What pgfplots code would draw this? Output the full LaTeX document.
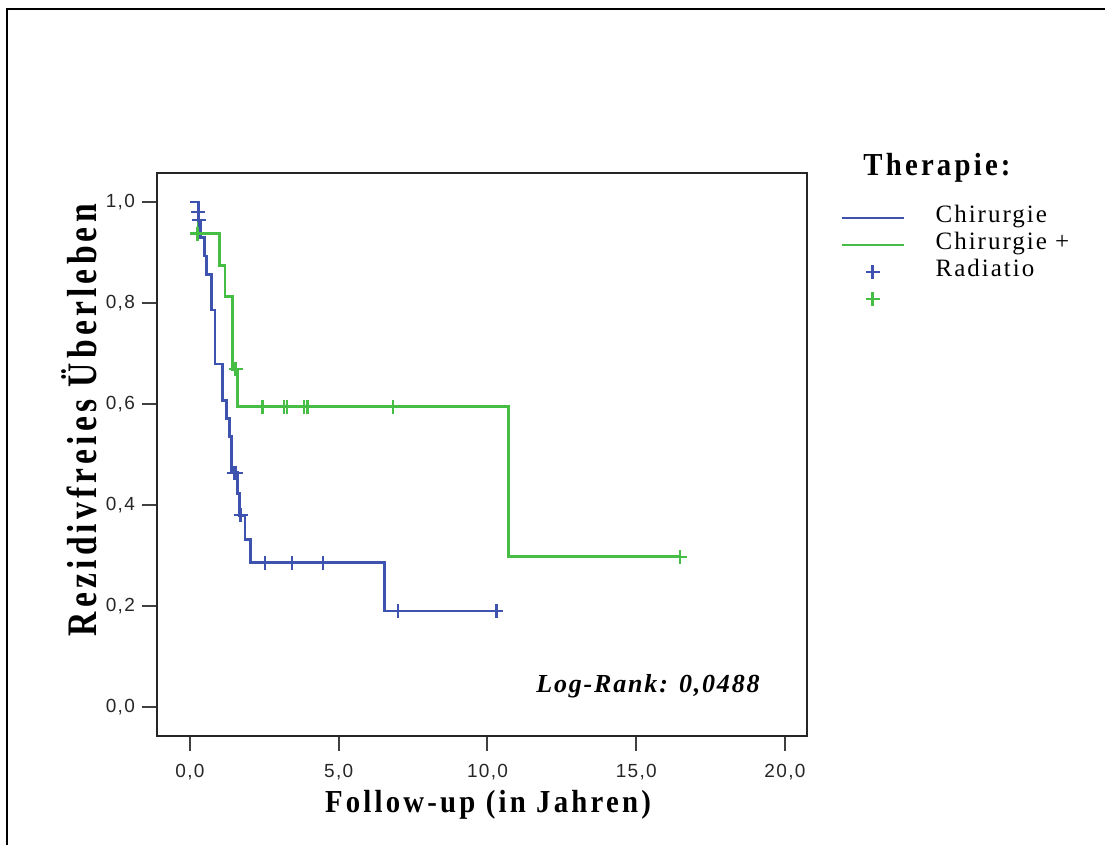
\documentclass[border=0pt]{standalone}
\usepackage{fontspec}
\setmainfont{Liberation Serif}
\newfontfamily\ticksf{Liberation Sans}[LetterSpace=7]
\newfontfamily\labelf{Liberation Serif}[LetterSpace=10,FakeStretch=0.9]
\newfontfamily\ylabelf{Liberation Serif}[LetterSpace=10,FakeStretch=0.8]
\newfontfamily\legf{Liberation Serif}[LetterSpace=8]
\newfontfamily\rankf{Liberation Serif}[LetterSpace=7]
\usepackage{pgfplots}
\pgfplotsset{compat=1.18}
\definecolor{kmblue}{RGB}{62,82,176}
\definecolor{kmgreen}{RGB}{70,190,70}

\pgfplotstableread{
t S
0.00 1.000
0.28 0.964
0.34 0.929
0.50 0.893
0.56 0.857
0.73 0.786
0.84 0.679
1.10 0.607
1.23 0.571
1.32 0.536
1.40 0.464
1.61 0.423
1.66 0.380
1.85 0.331
2.04 0.286
6.55 0.190
10.30 0.190
}\blueKM

\pgfplotstableread{
t S
0.28 0.980
0.30 0.964
1.47 0.464
1.55 0.464
1.70 0.380
2.52 0.286
3.42 0.286
4.48 0.286
7.00 0.190
10.30 0.190
}\blueCens

\pgfplotstableread{
t S
0.05 1.000
0.27 0.9375
0.99 0.875
1.18 0.8125
1.43 0.669
1.59 0.595
10.70 0.2975
16.47 0.2975
}\greenKM

\pgfplotstableread{
t S
0.25 0.9375
1.53 0.669
2.44 0.595
3.15 0.595
3.25 0.595
3.82 0.595
3.95 0.595
6.83 0.595
16.47 0.2975
}\greenCens

\begin{document}
\begin{tikzpicture}
\useasboundingbox (0,0) rectangle (552.5pt,-422.5pt);
\draw[line width=1pt] (3.5pt,-423pt) -- (3.5pt,-4.5pt) -- (553pt,-4.5pt);
\begin{axis}[
  at={(78.5pt,-368pt)}, anchor=south west,
  scale only axis, width=325pt, height=281.5pt,
  xmin=-1.109, xmax=20.74, ymin=-0.0574, ymax=1.0574,
  axis line style={line width=1.2pt, black!85},
  xtick={0,5,10,15,20}, ytick={0,0.2,0.4,0.6,0.8,1.0},
  tick pos=left, tick align=outside, major tick length=7.5pt,
  tick style={line width=1pt, black!75},
  /pgf/number format/.cd, fixed, fixed zerofill, precision=1, use comma, assume math mode=true,
  /pgfplots/.cd,
  ticklabel style={font=\ticksf\fontsize{9.5}{11}\selectfont, text=black!85},
  xticklabel style={yshift=-3pt},
  xlabel={Follow-up (in Jahren)},
  ylabel={Rezidivfreies Überleben},
  xlabel style={font=\labelf\bfseries\fontsize{16}{18}\selectfont, at={(axis description cs:0.5092,-0.135)}, anchor=base},
  ylabel style={font=\ylabelf\bfseries\fontsize{21}{23}\selectfont, at={(axis description cs:-0.0935,0.561)}, anchor=base, rotate=0},
  legend style={draw=none, fill=none, inner sep=0pt, at={(axis description cs:1.0508,0.9440)}, anchor=north west,
    font=\legf\fontsize{12.5}{14}\selectfont, row sep=0pt,
    nodes={inner sep=0pt, text height=9pt, text depth=4.4pt},
    /tikz/every odd column/.append style={column sep=15.5pt}},
  legend cell align=left,
  legend image code/.code={\draw[#1,mark repeat=2,mark phase=2] plot coordinates {(0pt,0pt) (15.5pt,0pt) (31pt,0pt)};},
]
\addlegendimage{kmblue, line width=1.1pt}
\addlegendentry{Chirurgie}
\addlegendimage{kmgreen, line width=1.1pt}
\addlegendentry{Chirurgie +}
\addlegendimage{kmblue, only marks, mark=+, mark size=3.5pt, mark options={line width=1.1pt}}
\addlegendentry{Radiatio}
\addlegendimage{kmgreen, only marks, mark=+, mark size=3.5pt, mark options={line width=1.1pt}}
\addlegendentry{}

\addplot[kmgreen, line width=1.4pt, const plot, forget plot] table[x=t,y=S] {\greenKM};
\addplot[kmblue, line width=1.4pt, const plot, forget plot] table[x=t,y=S] {\blueKM};
\addplot[kmgreen, only marks, mark=+, mark size=3.5pt, mark options={line width=1.1pt}, forget plot] table[x=t,y=S] {\greenCens};
\addplot[kmblue, only marks, mark=+, mark size=3.5pt, mark options={line width=1.1pt}, forget plot] table[x=t,y=S] {\blueCens};
\end{axis}
\node[font=\labelf\bfseries\fontsize{16}{18}\selectfont, anchor=base] at (468.5pt,-88pt) {Therapie:};
\node[font=\rankf\bfseries\itshape\fontsize{13}{15}\selectfont, anchor=base] at (324pt,-346.5pt) {Log-Rank: 0,0488};
\end{tikzpicture}
\end{document}
